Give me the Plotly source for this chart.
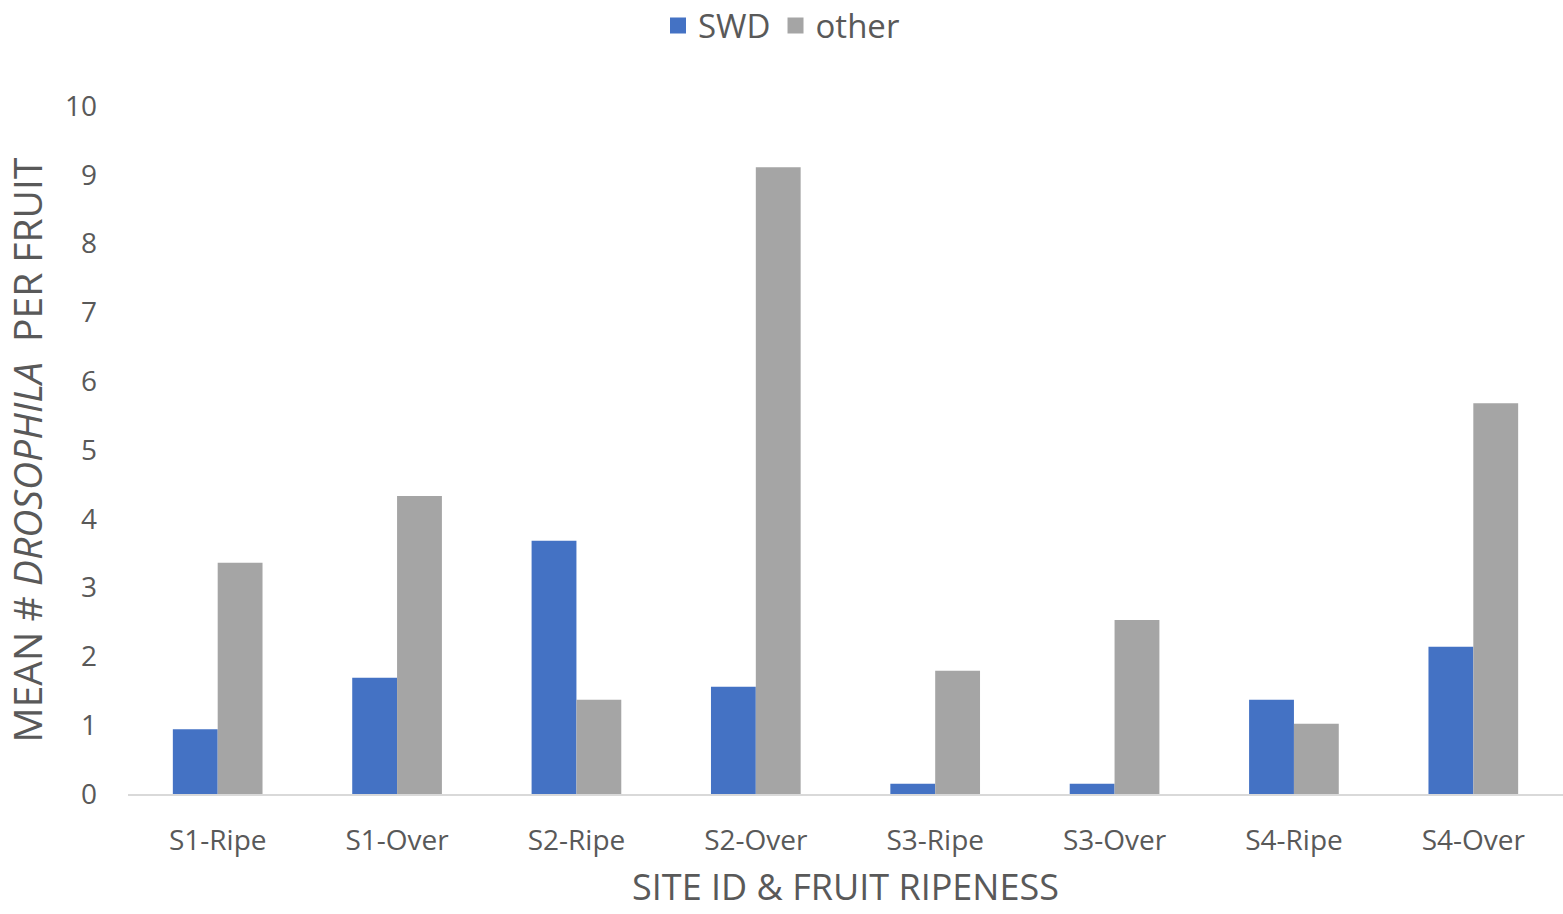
import plotly.graph_objects as go

categories = ["S1-Ripe", "S1-Over", "S2-Ripe", "S2-Over", "S3-Ripe", "S3-Over", "S4-Ripe", "S4-Over"]
swd = [0.94, 1.69, 3.68, 1.56, 0.15, 0.15, 1.37, 2.14]
other = [3.36, 4.33, 1.37, 9.11, 1.79, 2.53, 1.02, 5.68]
y_ticks = [0, 1, 2, 3, 4, 5, 6, 7, 8, 9, 10]

FONT = "Open Sans"
TXT = "#595959"
BLUE = "#4472C4"
GRAY = "#A5A5A5"

fig = go.Figure()
fig.add_trace(go.Bar(x=categories, y=swd, name="SWD", showlegend=False,
                     marker=dict(color=BLUE, line=dict(width=0))))
fig.add_trace(go.Bar(x=categories, y=other, name="other", showlegend=False,
                     marker=dict(color=GRAY, line=dict(width=0))))
# legend entries with larger square swatches
fig.add_trace(go.Scatter(x=[categories[0]], y=[None], mode="markers", name="SWD",
                         marker=dict(symbol="square", size=18, color=BLUE)))
fig.add_trace(go.Scatter(x=[categories[0]], y=[None], mode="markers", name="other",
                         marker=dict(symbol="square", size=18, color=GRAY)))

fig.update_layout(
    width=1563, height=914,
    margin=dict(l=128, r=0, t=106, b=120, autoexpand=False),
    paper_bgcolor="white", plot_bgcolor="white",
    barmode="group", bargap=0.5, bargroupgap=0,
    font=dict(family=FONT, color=TXT),
    legend=dict(orientation="h", x=0.5, xref="container", xanchor="center",
                y=0.972, yref="container", yanchor="middle",
                font=dict(size=33, color=TXT, family=FONT), itemsizing="trace"),
    xaxis=dict(showline=True, linecolor="#D9D9D9", linewidth=2, showgrid=False,
               tickfont=dict(size=28, color=TXT, family=FONT), ticks="", ticklabelstandoff=20,
               title=dict(text="SITE ID & FRUIT RIPENESS", font=dict(size=36, color=TXT, family=FONT), standoff=18)),
    yaxis=dict(range=[0, 10], tickvals=y_ticks, showgrid=False, zeroline=False, showline=False,
               tickfont=dict(size=28, color=TXT, family=FONT), ticks="", ticklabelstandoff=30,
               title=dict(text="MEAN # <i>DROSOPHILA</i>  PER FRUIT", font=dict(size=39, color=TXT, family=FONT), standoff=18)),
)

fig.write_html("out.html")
